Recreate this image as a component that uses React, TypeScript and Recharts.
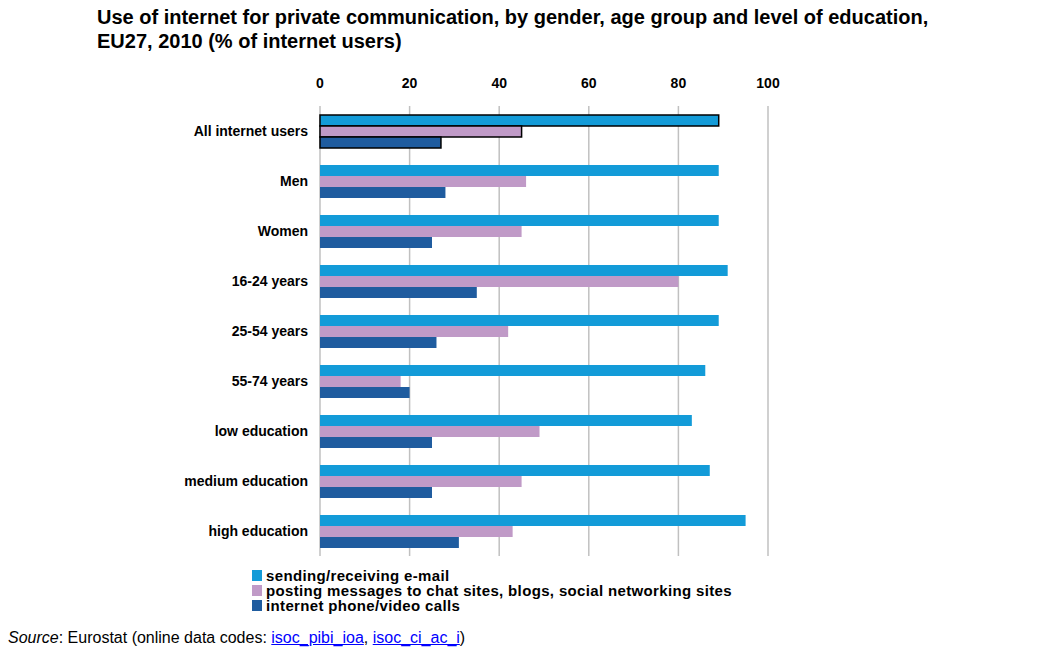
import React from 'react';
import { BarChart, Bar, XAxis, YAxis, CartesianGrid, Cell } from 'recharts';

// categories (top to bottom)
const groups = [
  'All internet users',
  'Men',
  'Women',
  '16-24 years',
  '25-54 years',
  '55-74 years',
  'low education',
  'medium education',
  'high education',
];

// % of internet users
const email = [89, 89, 89, 91, 89, 86, 83, 87, 95];
const posting = [45, 46, 45, 80, 42, 18, 49, 45, 43];
const calls = [27, 28, 25, 35, 26, 20, 25, 25, 31];

const xTicks = [0, 20, 40, 60, 80, 100];

const seriesNames = [
  'sending/receiving e-mail',
  'posting messages to chat sites, blogs, social networking sites',
  'internet phone/video calls',
];
const COLORS = ['#139bd8', '#c09ac7', '#1f5c9f'];

const data = groups.map((name, i) => ({
  name,
  email: email[i],
  posting: posting[i],
  calls: calls[i],
}));

const FONT = "'Liberation Sans', Arial, sans-serif";

const keys = ['email', 'posting', 'calls'];

export default function App() {
  return (
    <div style={{ position: 'absolute', left: 0, top: 0, width: 1060, height: 658, background: '#fff', fontFamily: FONT }}>
      <div
        style={{
          position: 'absolute',
          left: 97,
          top: 5,
          fontWeight: 'bold',
          fontSize: 20,
          lineHeight: '24px',
          color: '#000',
        }}
      >
        Use of internet for private communication, by gender, age group and level of education,
        <br />
        EU27, 2010 (% of internet users)
      </div>

      <div style={{ position: 'absolute', left: 0, top: 0 }}>
        <BarChart
          width={1060}
          height={570}
          data={data}
          layout="vertical"
          margin={{ top: 60, right: 292, bottom: 14, left: 0 }}
          barSize={11}
          barGap={0}
        >
          <CartesianGrid horizontal={false} stroke="#c0c0c0" strokeWidth={1.5} />
          <XAxis
            type="number"
            orientation="top"
            domain={[0, 100]}
            ticks={xTicks}
            height={46}
            axisLine={false}
            tickLine={false}
            tickMargin={12}
            tick={{ fill: '#000', fontSize: 14, fontWeight: 'bold', fontFamily: FONT }}
          />
          <YAxis
            type="category"
            dataKey="name"
            width={320}
            axisLine={false}
            tickLine={false}
            tickMargin={6}
            tick={{ fill: '#000', fontSize: 14, fontWeight: 'bold', fontFamily: FONT }}
          />
          {keys.map((k, s) => (
            <Bar key={k} dataKey={k} name={seriesNames[s]} fill={COLORS[s]} isAnimationActive={false}>
              {data.map((_, i) => (
                <Cell
                  key={`c-${k}-${i}`}
                  fill={COLORS[s]}
                  stroke={i === 0 ? '#000' : 'none'}
                  strokeWidth={i === 0 ? 1.5 : 0}
                />
              ))}
            </Bar>
          ))}
        </BarChart>
      </div>

      <div
        style={{
          position: 'absolute',
          left: 252,
          top: 568,
          fontWeight: 'bold',
          fontSize: 15,
          letterSpacing: '0.35px',
          lineHeight: '15px',
          color: '#000',
        }}
      >
        {seriesNames.map((n, s) => (
          <div key={n} style={{ display: 'flex', alignItems: 'center', height: 15 }}>
            <span style={{ display: 'inline-block', width: 10, height: 11, background: COLORS[s], marginRight: 4 }} />
            <span>{n}</span>
          </div>
        ))}
      </div>

      <div
        style={{
          position: 'absolute',
          left: 8,
          top: 629,
          fontSize: 16,
          color: '#000',
        }}
      >
        <i>Source</i>: Eurostat (online data codes:{' '}
        <span style={{ color: '#00f', textDecoration: 'underline' }}>isoc_pibi_ioa</span>,{' '}
        <span style={{ color: '#00f', textDecoration: 'underline' }}>isoc_ci_ac_i</span>)
      </div>
    </div>
  );
}
